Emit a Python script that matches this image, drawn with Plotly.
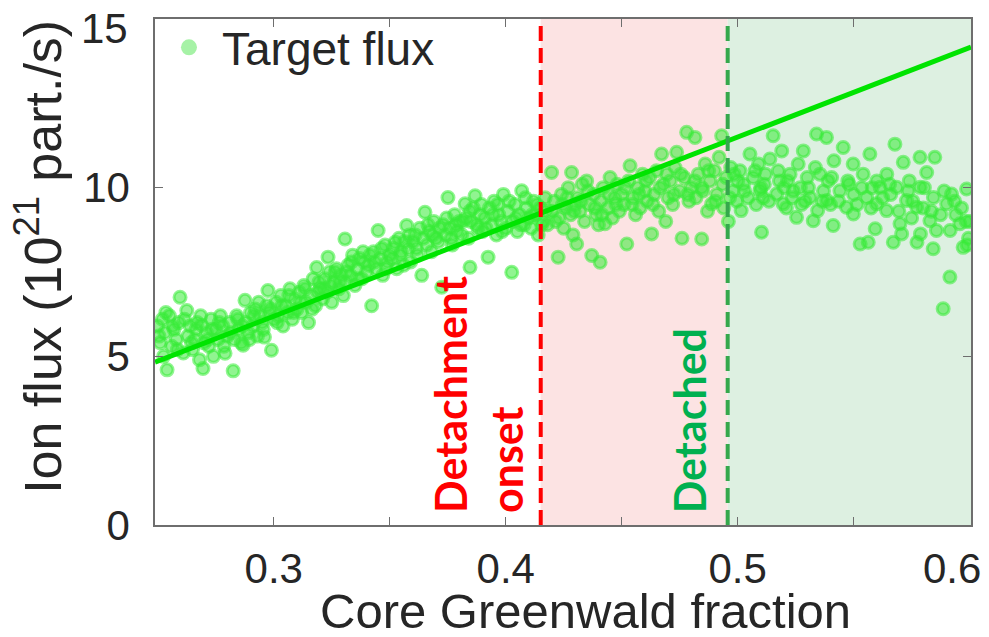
import plotly.graph_objects as go

# Core Greenwald fraction of each sample
gw_fraction = [
    0.250, 0.251, 0.252, 0.2525, 0.253, 0.254, 0.255, 0.256, 0.257, 0.258, 0.259, 0.2596,
    0.261, 0.2625, 0.263, 0.264, 0.265, 0.266, 0.267, 0.268, 0.269, 0.2695, 0.270,
    0.271, 0.272, 0.273, 0.274, 0.275, 0.276, 0.277, 0.278, 0.279, 0.280,
    0.281, 0.2825, 0.283, 0.284, 0.285, 0.286, 0.2868, 0.2876, 0.288, 0.289, 0.290,
    0.291, 0.292, 0.293, 0.294, 0.295, 0.296, 0.297, 0.2975, 0.298, 0.299, 0.300,
    0.301, 0.302, 0.303, 0.304, 0.305, 0.306, 0.307, 0.308, 0.309, 0.310,
    0.311, 0.312, 0.313, 0.314, 0.315, 0.316, 0.317, 0.318, 0.3185, 0.319, 0.320,
    0.321, 0.322, 0.323, 0.3234, 0.324, 0.325, 0.326, 0.327, 0.328, 0.329, 0.330,
    0.3307, 0.331, 0.332, 0.333, 0.334, 0.335, 0.336, 0.337, 0.338, 0.339, 0.340,
    0.341, 0.3422, 0.343, 0.344, 0.345, 0.346, 0.347, 0.348, 0.349, 0.350,
    0.351, 0.3523, 0.353, 0.354, 0.355, 0.356, 0.3573, 0.358, 0.359, 0.360,
    0.361, 0.362, 0.363, 0.3638, 0.3652, 0.366, 0.367, 0.368, 0.369, 0.370,
    0.371, 0.3724, 0.373, 0.374, 0.3751, 0.376, 0.377, 0.378, 0.379, 0.380,
    0.381, 0.3825, 0.383, 0.384, 0.3846, 0.385, 0.386, 0.3868, 0.388, 0.389, 0.390,
    0.391, 0.3924, 0.393, 0.394, 0.395, 0.396, 0.397, 0.398, 0.399, 0.400,
    0.401, 0.4026, 0.403, 0.404, 0.405, 0.406, 0.4069, 0.408, 0.409, 0.410,
    0.411, 0.412, 0.413, 0.414, 0.415, 0.416, 0.417, 0.418, 0.4198, 0.420,
    0.421, 0.4226, 0.423, 0.424, 0.425, 0.426, 0.427, 0.428, 0.4284, 0.429, 0.430,
    0.4306, 0.431, 0.432, 0.433, 0.434, 0.4349, 0.436, 0.4371, 0.438, 0.439, 0.440,
    0.4407, 0.441, 0.442, 0.4428, 0.444, 0.445, 0.446, 0.447, 0.448, 0.449, 0.450,
    0.451, 0.4522, 0.453, 0.4536, 0.455, 0.456, 0.457, 0.458, 0.459, 0.460,
    0.461, 0.462, 0.4629, 0.464, 0.465, 0.466, 0.4672, 0.468, 0.469, 0.470,
    0.471, 0.472, 0.473, 0.4737, 0.475, 0.476, 0.477, 0.478, 0.479, 0.480,
    0.4816, 0.482, 0.483, 0.4845, 0.485, 0.486, 0.487, 0.488, 0.4888, 0.490,
    0.491, 0.492, 0.4931, 0.494, 0.495, 0.496, 0.497, 0.498, 0.4996, 0.500,
    0.501, 0.5015, 0.503, 0.5053, 0.5067, 0.508, 0.509, 0.5096, 0.5103, 0.510,
    0.511, 0.512, 0.5139, 0.5153, 0.5168, 0.518, 0.519, 0.5196, 0.520,
    0.521, 0.5226, 0.524, 0.5254, 0.5261, 0.527, 0.5283, 0.529, 0.530,
    0.5312, 0.5326, 0.534, 0.5345, 0.5355, 0.537, 0.5383, 0.5385, 0.539, 0.540,
    0.5412, 0.5415, 0.5441, 0.5455, 0.5469, 0.548, 0.5498, 0.5499, 0.550,
    0.5528, 0.5541, 0.5556, 0.5563, 0.557, 0.558, 0.5593, 0.5599, 0.560,
    0.5614, 0.5642, 0.5643, 0.566, 0.5671, 0.5678, 0.5685, 0.570, 0.5707,
    0.5714, 0.5728, 0.574, 0.575, 0.5772, 0.5773, 0.5786, 0.5787, 0.5788, 0.580,
    0.5815, 0.5829, 0.5843, 0.5844, 0.585, 0.5857, 0.5886, 0.589, 0.5901,
    0.5915, 0.5916, 0.5922, 0.594, 0.5958, 0.5972, 0.5987, 0.599, 0.5995, 0.600,
    # second pass through the scan
    0.2505, 0.2535, 0.2565, 0.2585, 0.2615, 0.2645, 0.2665, 0.2685, 0.2715, 0.2735,
    0.2765, 0.2785, 0.2815, 0.2845, 0.2865, 0.2895, 0.2915, 0.2935, 0.2955, 0.2985,
    0.3015, 0.3035, 0.3065, 0.3085, 0.3115, 0.3135, 0.3165, 0.3195,
    0.3215, 0.3245, 0.3265, 0.3285, 0.3315, 0.3335, 0.3365, 0.3385,
    0.3415, 0.3435, 0.3465, 0.3485, 0.3515, 0.3545, 0.3565, 0.3585,
    0.3615, 0.3645, 0.3665, 0.3685, 0.3715, 0.3745, 0.3765, 0.3785,
    0.3815, 0.3845, 0.3875, 0.3895, 0.3915, 0.3945, 0.3965, 0.3985,
    0.4015, 0.4045, 0.4065, 0.4085, 0.4115, 0.4135, 0.4155, 0.4175,
    0.4215, 0.4245, 0.4265, 0.4295, 0.4325, 0.4355, 0.4385, 0.4415, 0.4445,
    0.4475, 0.4515, 0.4545, 0.4575, 0.4605, 0.4635, 0.4665, 0.4695, 0.4725,
    0.4755, 0.4785, 0.4815, 0.4845, 0.4875, 0.4905, 0.4935, 0.4965, 0.4985,
    0.5025, 0.5045, 0.5075, 0.5115, 0.5135, 0.5175, 0.5215, 0.5235, 0.5275, 0.5305,
    0.5335, 0.5365, 0.5405, 0.5435, 0.5475, 0.5515, 0.5535, 0.5575, 0.5625, 0.5655,
    0.5695, 0.5735, 0.5755, 0.5805, 0.5835, 0.5875, 0.5935, 0.5965, 0.5985,
]

# Target ion flux, 1e21 particles per second
ion_flux = [
    5.9, 5.4, 6.1, 5.0, 5.7, 4.6, 6.2, 5.3, 5.8, 5.5, 6.0, 6.75,
    5.1, 6.36, 5.6, 5.9, 5.2, 5.5, 6.0, 4.9, 5.92, 4.64, 5.4,
    5.7, 5.3, 6.1, 5.0, 5.8, 5.5, 6.2, 5.9, 5.09, 5.6,
    6.0, 4.57, 5.5, 6.2, 5.8, 5.4, 5.33, 6.66, 6.0, 5.7, 6.3,
    5.9, 6.4, 5.6, 6.2, 6.0, 5.57, 6.5, 6.95, 6.3, 5.18, 6.1,
    6.6, 6.2, 6.8, 5.9, 6.5, 6.3, 7.0, 6.1, 6.7, 6.4,
    6.9, 6.3, 7.1, 6.6, 6.0, 6.8, 7.3, 6.5, 7.63, 6.9, 7.0,
    6.7, 7.3, 6.9, 7.94, 7.5, 6.6, 7.2, 7.6, 7.0, 7.4, 6.8,
    8.48, 7.2, 7.7, 7.4, 8.0, 7.1, 7.6, 7.9, 7.3, 7.8, 7.5,
    7.7, 6.5, 8.1, 7.6, 8.73, 7.9, 7.4, 8.3, 7.8, 8.0,
    7.9, 8.38, 7.6, 8.5, 8.1, 7.7, 8.88, 8.2, 7.8, 8.4,
    8.6, 8.0, 8.8, 7.4, 9.27, 8.3, 8.7, 8.1, 9.0, 8.5,
    8.4, 7.05, 8.9, 8.6, 9.71, 8.8, 8.3, 9.2, 8.7, 9.0,
    8.6, 9.52, 9.1, 8.5, 7.64, 9.0, 9.4, 9.76, 8.8, 9.2, 8.7,
    9.1, 7.94, 9.4, 8.9, 9.6, 8.6, 9.2, 9.0, 9.8, 8.8,
    9.3, 7.49, 9.0, 9.5, 8.7, 9.2, 9.91, 8.9, 9.4, 9.1,
    8.8, 9.6, 9.2, 8.6, 9.4, 9.0, 9.7, 8.9, 10.45, 9.3,
    9.6, 7.94, 9.1, 9.8, 8.8, 9.4, 10.0, 9.2, 10.45, 8.6, 9.5,
    8.33, 9.7, 9.3, 10.1, 9.0, 10.2, 9.5, 7.99, 9.8, 9.2, 8.9,
    7.79, 9.6, 10.0, 8.93, 9.4, 10.3, 9.1, 9.7, 10.1, 9.3, 9.8,
    9.5, 8.33, 10.2, 10.65, 9.7, 9.2, 10.0, 9.4, 10.4, 9.9,
    9.6, 10.3, 8.63, 9.8, 10.5, 9.3, 11.0, 10.1, 9.0, 9.7,
    10.2, 9.5, 10.6, 11.05, 9.9, 8.5, 10.3, 11.64, 9.6, 10.0,
    11.49, 9.7, 10.4, 8.48, 9.9, 10.7, 9.3, 10.2, 9.52, 10.5,
    9.8, 10.9, 11.54, 9.4, 10.3, 9.0, 10.6, 9.9, 9.6, 10.2,
    10.5, 9.32, 9.9, 11.0, 10.3, 9.5, 10.7, 9.91, 8.68, 10.0,
    9.7, 10.4, 10.85, 11.54, 9.81, 10.2, 11.09, 9.52, 10.0,
    9.4, 10.4, 9.9, 9.12, 10.7, 10.0, 11.09, 9.6, 10.3,
    9.71, 9.02, 11.59, 9.32, 10.4, 9.9, 11.49, 9.62, 10.2, 9.5,
    8.88, 10.8, 9.91, 11.19, 9.42, 10.1, 10.7, 9.22, 9.8,
    8.33, 10.4, 9.71, 8.38, 11.0, 10.0, 8.78, 9.52, 10.2,
    10.01, 9.32, 10.4, 9.8, 8.38, 11.29, 10.01, 8.93, 8.63,
    10.75, 9.62, 10.2, 9.1, 9.42, 8.38, 10.9, 10.01, 8.63, 9.4,
    10.45, 9.02, 8.19, 9.71, 10.9, 8.73, 6.41, 9.9, 9.52,
    7.35, 8.73, 9.81, 9.2, 8.93, 8.23, 9.96, 8.3, 8.5, 9.0,
    # second pass through the scan
    5.6, 6.3, 5.9, 5.2, 6.1, 5.4, 5.8, 6.2, 5.5, 5.8,
    6.0, 5.3, 5.7, 6.1, 5.9, 5.5, 6.2, 6.6, 5.8, 6.4,
    6.0, 6.5, 6.8, 6.3, 6.6, 7.0, 6.4, 7.2,
    7.0, 7.1, 7.5, 7.2, 7.5, 7.8, 7.3, 8.1,
    8.0, 7.8, 8.2, 7.6, 8.2, 8.0, 8.4, 8.6,
    8.2, 8.5, 8.9, 8.6, 8.8, 9.1, 8.5, 8.9,
    9.0, 9.3, 8.9, 9.5, 8.8, 9.2, 9.5, 8.7,
    9.6, 9.1, 8.9, 9.7, 9.2, 9.5, 8.9, 9.3,
    9.0, 9.5, 9.7, 9.3, 9.6, 9.9, 9.4, 9.2, 9.8,
    9.5, 10.0, 9.5, 9.8, 10.2, 9.5, 10.0, 10.4, 9.8,
    10.4, 9.8, 10.2, 10.0, 10.5, 9.6, 10.1, 9.7, 10.4,
    10.1, 9.7, 10.5, 10.1, 9.6, 10.5, 10.2, 9.7, 9.5, 10.0,
    10.6, 9.6, 10.3, 9.6, 10.2, 9.5, 10.0, 9.4, 9.7, 10.1,
    9.3, 9.9, 9.6, 10.0, 9.3, 9.2, 9.6, 9.4, 9.0,
]
assert len(gw_fraction) == len(ion_flux)

# Linear fit of the flux across the scan (end points)
fit_x = [0.2488, 0.6006]
fit_y = [4.83, 14.17]

# Regime boundaries
onset_fraction = 0.4151
detached_fraction = 0.4957

x_range = [0.2488, 0.6006]
y_range = [0, 15]
x_tickvals = [0.3, 0.4, 0.5]
x_ticktext = ["0.3", "0.4", "0.5"]
x_minorvals = [0.35, 0.45, 0.55]
y_tickvals = [0, 5, 10]
y_ticktext = ["0", "5", "10"]

TEXT = "#262626"
AXIS = "#6e6e6e"
FONT = "Liberation Sans, Arial, Helvetica, sans-serif"
MARKER = "rgba(55,235,55,0.55)"

fig = go.Figure()

# shaded regimes
fig.add_vrect(x0=onset_fraction, x1=detached_fraction, fillcolor="#fce3e3",
              line_width=0, layer="below")
fig.add_vrect(x0=detached_fraction, x1=x_range[1], fillcolor="#ddf0e1",
              line_width=0, layer="below")

fig.add_trace(go.Scatter(
    x=gw_fraction, y=ion_flux, mode="markers", showlegend=False,
    marker=dict(size=12, color=MARKER, line=dict(color=MARKER, width=3)),
    hoverinfo="skip",
))

fig.add_trace(go.Scatter(
    x=fit_x, y=fit_y, mode="lines", showlegend=False,
    line=dict(color="#00e400", width=5),
))

# legend entry
fig.add_trace(go.Scatter(
    x=[None], y=[None], mode="markers", name="Target flux",
    marker=dict(size=16, color="#a6f2a6"),
))

# regime boundaries
fig.add_vline(x=onset_fraction, line=dict(color="#ff0000", width=4, dash="15px,7px"))
fig.add_vline(x=detached_fraction, line=dict(color="#35a84c", width=4, dash="15px,7px"))

label_font = dict(family="Lato, Calibri, sans-serif", size=43, color="#ff0000")
fig.add_annotation(x=0.3762, y=0.3, xref="x", yref="y", text="<b>Detachment</b>",
                   textangle=-90, showarrow=False, xanchor="center", yanchor="bottom",
                   font=label_font)
fig.add_annotation(x=0.4004, y=0.3, xref="x", yref="y", text="<b>onset</b>",
                   textangle=-90, showarrow=False, xanchor="center", yanchor="bottom",
                   font=label_font)
fig.add_annotation(x=0.479, y=0.3, xref="x", yref="y", text="<b>Detached</b>",
                   textangle=-90, showarrow=False, xanchor="center", yanchor="bottom",
                   font=dict(label_font, color="#00b050"))

tick_font = dict(family=FONT, size=42, color=TEXT)

# end labels of both axes, pulled inside the figure edge
fig.add_annotation(x=0.6, y=-0.0868, xref="x", yref="paper", text="0.6",
                   showarrow=False, xanchor="center", yanchor="middle", xshift=-18,
                   font=tick_font)
fig.add_annotation(x=-0.0306, y=15, xref="paper", yref="y", text="15",
                   showarrow=False, xanchor="right", yanchor="middle", yshift=-9,
                   font=tick_font)

# axis titles
fig.add_annotation(x=0.528, y=-0.1696, xref="paper", yref="paper",
                   text="Core Greenwald fraction", showarrow=False,
                   xanchor="center", yanchor="middle", borderpad=0,
                   font=dict(family=FONT, size=49, color=TEXT))
fig.add_annotation(x=-0.143, y=0.5306, xref="paper", yref="paper",
                   text="Ion flux (10<sup>21</sup> part./s)", textangle=-90, showarrow=False,
                   xanchor="center", yanchor="middle",
                   font=dict(family=FONT, size=52, color=TEXT))

axis_common = dict(showline=True, linecolor=AXIS, linewidth=1.5, mirror="ticks",
                   ticks="inside", ticklen=8, tickcolor=AXIS, tickwidth=1.2,
                   showgrid=False, zeroline=False, tickfont=tick_font)

fig.update_xaxes(range=x_range, tickvals=x_tickvals, ticktext=x_ticktext,
                 minor=dict(tickvals=x_minorvals, ticks="inside", ticklen=8,
                            tickcolor=AXIS, tickwidth=1.2, showgrid=False),
                 ticklabelstandoff=6, **axis_common)
fig.update_yaxes(range=y_range, tickvals=y_tickvals, ticktext=y_ticktext,
                 ticklabelstandoff=15, **axis_common)

fig.update_layout(
    width=989, height=637,
    margin=dict(l=155, r=18, t=18, b=112),
    plot_bgcolor="white", paper_bgcolor="white",
    showlegend=True,
    legend=dict(x=0.0012, y=1.014, xanchor="left", yanchor="top",
                bgcolor="rgba(0,0,0,0)", itemwidth=56,
                font=dict(family=FONT, size=46, color=TEXT)),
)

fig.write_html("out.html")
